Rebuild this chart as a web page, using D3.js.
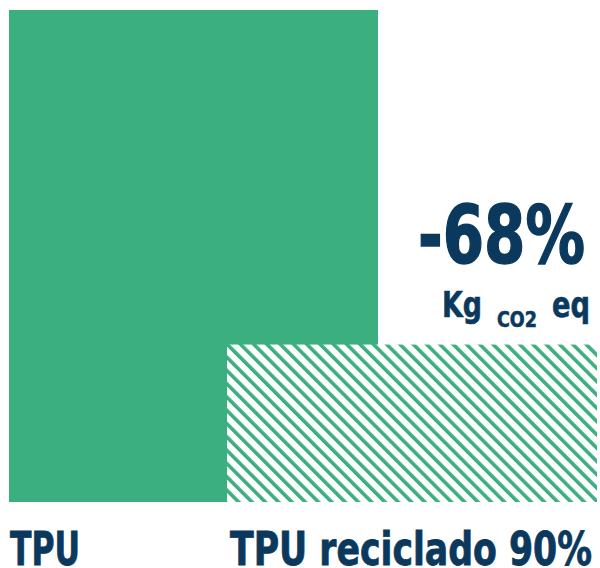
<!DOCTYPE html>
<html>
<head>
<meta charset="utf-8">
<script src="https://cdn.jsdelivr.net/npm/d3@7"></script>
<style>
  html, body { margin: 0; padding: 0; background: #fff; }
  svg { display: block; }
</style>
</head>
<body>
<div id="chart"></div>
<script>
// data
const categories = ['TPU', 'TPU reciclado 90%'];
const values = [100, 32];
const changeLabel = '-68%';
const unitParts = ['Kg', 'CO2', 'eq'];

document.addEventListener('DOMContentLoaded', function () {
  const width = 600, height = 568;
  const green = '#3caf80';
  const navy = '#0b395e';
  const font = '"Liberation Sans Narrow", "DejaVu Sans Condensed", sans-serif';

  const svg = d3.select('#chart')
    .append('svg')
    .attr('width', width)
    .attr('height', height);

  // hatch pattern for recycled bar
  const defs = svg.append('defs');
  const pat = defs.append('pattern')
    .attr('id', 'hatch')
    .attr('patternUnits', 'userSpaceOnUse')
    .attr('width', 9.4)
    .attr('height', 9.4)
    .attr('patternTransform', 'rotate(-45)');
  pat.append('rect')
    .attr('width', 9.4).attr('height', 9.4)
    .attr('fill', '#fff');
  pat.append('rect')
    .attr('x', 0).attr('y', 0)
    .attr('width', 3.6).attr('height', 9.4)
    .attr('fill', green);

  const y = d3.scaleLinear().domain([0, 100]).range([502, 10]);
  const x = d3.scaleLinear().domain([0, 1]).range([9, 227]);
  const barWidth = 370;

  svg.selectAll('.bar')
    .data(values)
    .enter()
    .append('rect')
    .attr('class', 'bar')
    .attr('x', (d, i) => x(i))
    .attr('y', d => y(d))
    .attr('width', (d, i) => i === 0 ? 369 : barWidth)
    .attr('height', d => y(0) - y(d))
    .style('fill', (d, i) => i === 0 ? green : 'url(#hatch)');

  // category labels
  const labelLens = [70, 362];
  svg.selectAll('.cat')
    .data(categories)
    .enter()
    .append('text')
    .attr('class', 'cat')
    .attr('x', (d, i) => x(i) + (i === 0 ? 1 : 3))
    .attr('y', 565)
    .attr('textLength', (d, i) => labelLens[i])
    .attr('lengthAdjust', 'spacingAndGlyphs')
    .style('font-family', font)
    .style('font-weight', 'bold')
    .style('font-size', '46px')
    .style('fill', navy)
    .style('stroke', navy)
    .style('stroke-width', 0.8)
    .text(d => d);

  // change annotation
  svg.append('text')
    .attr('x', 418)
    .attr('y', 263)
    .attr('textLength', 167)
    .attr('lengthAdjust', 'spacingAndGlyphs')
    .style('font-family', font)
    .style('font-weight', 'bold')
    .style('font-size', '81px')
    .style('fill', navy)
    .style('stroke', navy)
    .style('stroke-width', 1.5)
    .text(changeLabel);

  const unitPos = [
    { x: 442, y: 317, size: 36, len: 40 },
    { x: 497, y: 327, size: 21, len: 40 },
    { x: 552, y: 317, size: 36, len: 38 }
  ];
  svg.selectAll('.unit')
    .data(unitParts)
    .enter()
    .append('text')
    .attr('class', 'unit')
    .attr('x', (d, i) => unitPos[i].x)
    .attr('y', (d, i) => unitPos[i].y)
    .attr('textLength', (d, i) => unitPos[i].len)
    .attr('lengthAdjust', 'spacingAndGlyphs')
    .style('font-family', font)
    .style('font-weight', 'bold')
    .style('font-size', (d, i) => unitPos[i].size + 'px')
    .style('fill', navy)
    .style('stroke', navy)
    .style('stroke-width', 0.6)
    .text(d => d);
});
</script>
</body>
</html>
